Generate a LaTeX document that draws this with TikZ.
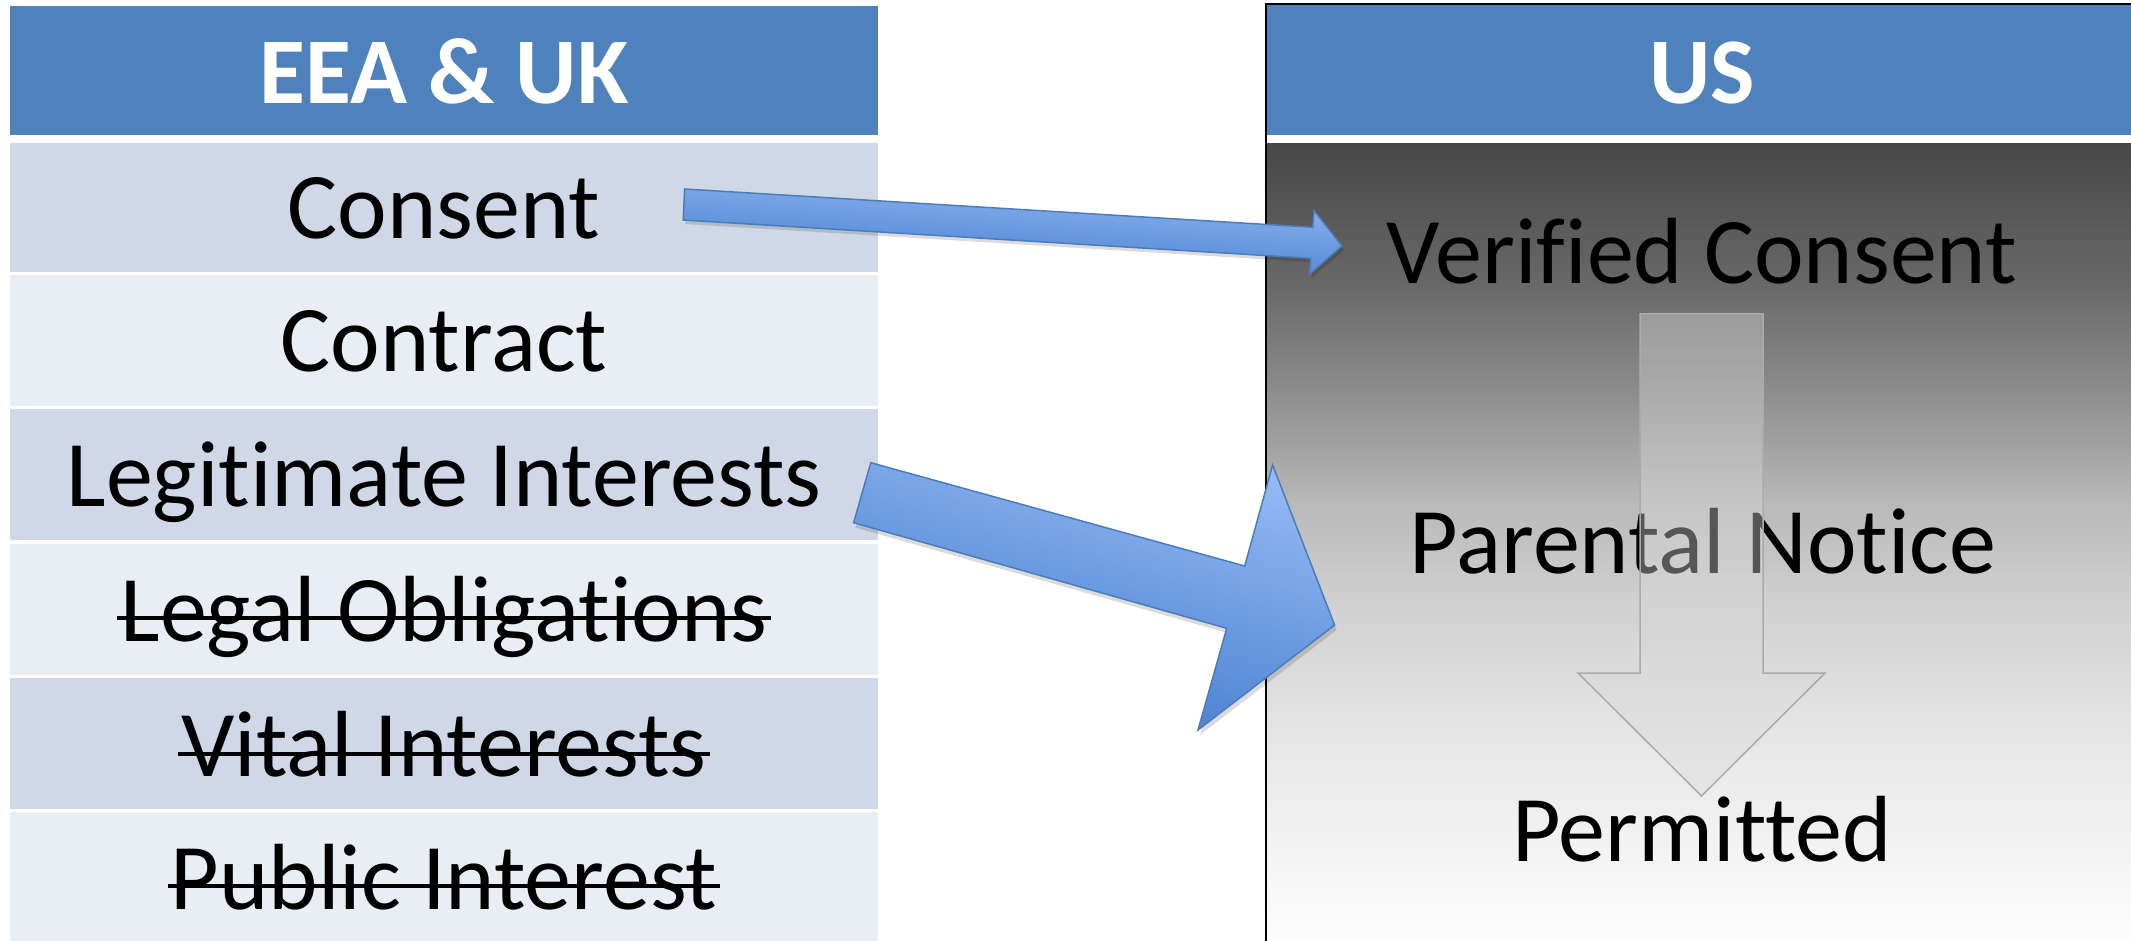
\documentclass[tikz,border=0pt]{standalone}
\usepackage{fontspec}
\setmainfont{Carlito}[Ligatures={NoCommon}]
\usetikzlibrary{calc}
\definecolor{hdr}{HTML}{4F81BD}
\definecolor{rowA}{HTML}{D0D8E8}
\definecolor{rowB}{HTML}{E9EDF4}
\definecolor{blueTop}{HTML}{93B8F4}
\definecolor{blueBot}{HTML}{3F78CA}
\definecolor{blueEdge}{HTML}{4A7EBB}
\definecolor{grayArrow}{HTML}{D9D9D9}
\definecolor{grayEdge}{HTML}{ABABAB}
\definecolor{gA}{RGB}{71,71,71}
\definecolor{gB}{RGB}{106,106,106}
\definecolor{gC}{RGB}{144,144,144}
\definecolor{gD}{RGB}{184,184,184}
\definecolor{gE}{RGB}{208,208,208}
\definecolor{gF}{RGB}{232,232,232}
\definecolor{gG}{RGB}{253,253,253}
\tikzset{
  lbl/.style={anchor=base, inner sep=0pt, font=\fontsize{94}{94}\selectfont},
  hlbl/.style={anchor=base, inner sep=0pt, text=white, font=\fontsize{94}{94}\selectfont\bfseries},
  strikeline/.style={line width=4pt},
  bluearrow/.style={draw=blueEdge, line width=1.5pt, line join=miter, top color=blueTop, bottom color=blueBot},
  arrowshadow/.style={fill=black, opacity=0.14},
  grayarrow/.style={fill=grayArrow, fill opacity=0.4, draw=grayEdge, line width=1.5pt},
  border/.style={draw=black, line width=2.5pt},
}
\begin{document}
\begin{tikzpicture}[x=1pt,y=-1pt]
\useasboundingbox (0,0) rectangle (2131,941);
\fill[white] (0,0) rectangle (2131,941);

% left table
\fill[hdr]  (10,6)   rectangle (878,135);
\fill[rowA] (10,143) rectangle (878,272);
\fill[rowB] (10,275) rectangle (878,406);
\fill[rowA] (10,409) rectangle (878,540);
\fill[rowB] (10,544) rectangle (878,675);
\fill[rowA] (10,678) rectangle (878,809);
\fill[rowB] (10,812) rectangle (878,941);

% US panel
\fill[hdr] (1266,5) rectangle (2131,135);
\shade[top color=gA, bottom color=gB] (1266,143.5) rectangle (2131,291);
\shade[top color=gB, bottom color=gC] (1266,290) rectangle (2131,401);
\shade[top color=gC, bottom color=gD] (1266,400) rectangle (2131,501);
\shade[top color=gD, bottom color=gE] (1266,500) rectangle (2131,601);
\shade[top color=gE, bottom color=gF] (1266,600) rectangle (2131,751);
\shade[top color=gF, bottom color=gG] (1266,750) rectangle (2131,941);
\draw[border] (1266,941) -- (1266,4) -- (2131,4);

% texts
\node[hlbl] (h1) at (444,104) {EEA \& UK};
\node[lbl] (t1) at (444,239) {Consent};
\node[lbl] (t2) at (444,371) {Contract};
\node[lbl] (t3) at (444,506) {Legitimate Interests};
\node[lbl] (t4) at (444,641) {Legal Obligations};
\node[lbl] (t5) at (444,776) {Vital Interests};
\node[lbl] (t6) at (444,909) {Public Interest};
\draw[strikeline] ([xshift=-3pt,yshift=23pt]t4.base west) -- ([xshift=3pt,yshift=23pt]t4.base east);
\draw[strikeline] ([xshift=-3pt,yshift=22pt]t5.base west) -- ([xshift=3pt,yshift=22pt]t5.base east);
\draw[strikeline] ([xshift=-3pt,yshift=23pt]t6.base west) -- ([xshift=3pt,yshift=23pt]t6.base east);

\node[hlbl] (h2) at (1702,104) {US};
\node[lbl] (u1) at (1702,284) {Verified Consent};
\node[lbl] (u2) at (1703,573) {Parental Notice};
\node[lbl] (u3) at (1702,861) {Permitted};

% gray down arrow
\filldraw[grayarrow] (1640,314) -- (1763,314) -- (1763,673) -- (1825,673)
  -- (1701.5,796) -- (1578,673) -- (1640,673) -- cycle;

% blue arrows: shadows
\fill[arrowshadow, shift={(2,4)}] (684.6,189) -- (1312.8,227.3) -- (1314,210.7) -- (1342,246)
  -- (1309.6,274) -- (1310.7,258.3) -- (683.2,220) -- cycle;
\fill[arrowshadow, shift={(2,5)}] (870.8,462.7) -- (1244.7,566) -- (1272.6,465) -- (1334.6,625)
  -- (1198,730) -- (1226.7,628.3) -- (853.6,522.7) -- cycle;

% blue arrows
\path[bluearrow, shading angle=-3.6] (684.6,189) -- (1312.8,227.3) -- (1314,210.7) -- (1342,246)
  -- (1309.6,274) -- (1310.7,258.3) -- (683.2,220) -- cycle;
\path[bluearrow, shading angle=-15.6] (870.8,462.7) -- (1244.7,566) -- (1272.6,465) -- (1334.6,625)
  -- (1198,730) -- (1226.7,628.3) -- (853.6,522.7) -- cycle;
\end{tikzpicture}
\end{document}
